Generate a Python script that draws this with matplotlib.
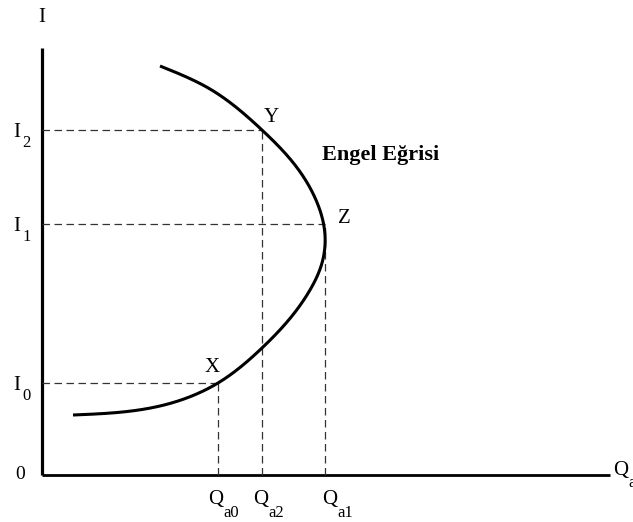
import numpy as np
import matplotlib
matplotlib.use("Agg")
import matplotlib.pyplot as plt

# Engel curve for a good that turns inferior at high income (Q on x, income I on y)
curve_q = [118, 168, 220, 253, 274, 283, 280, 268, 245, 220, 176, 118, 31]
curve_i = [409, 386, 345, 310, 275, 240, 212, 185, 153, 127, 92, 69, 60]

# Marked income levels and the matching quantities
income_levels = [92, 251, 345]          # I0, I1, I2
income_labels = ["0", "1", "2"]
quantities = [176, 283, 220]            # Qa0, Qa1, Qa2 (paired with I0, I1, I2)
quantity_labels = ["a0", "a1", "a2"]
point_names = ["X", "Z", "Y"]

FONT = "Liberation Serif"


def natural_spline(t, y, tt):
    """Natural cubic spline of y(t), evaluated at tt."""
    n = len(t)
    h = np.diff(t)
    A = np.zeros((n, n))
    r = np.zeros(n)
    A[0, 0] = A[-1, -1] = 1.0
    for k in range(1, n - 1):
        A[k, k - 1] = h[k - 1]
        A[k, k] = 2 * (h[k - 1] + h[k])
        A[k, k + 1] = h[k]
        r[k] = 3 * ((y[k + 1] - y[k]) / h[k] - (y[k] - y[k - 1]) / h[k - 1])
    c = np.linalg.solve(A, r)
    b = np.diff(y) / h - h * (2 * c[:-1] + c[1:]) / 3
    d = np.diff(c) / (3 * h)
    idx = np.clip(np.searchsorted(t, tt, side="right") - 1, 0, n - 2)
    dt = tt - t[idx]
    return y[idx] + b[idx] * dt + c[idx] * dt ** 2 + d[idx] * dt ** 3


def smooth_path(xs, ys, n=600):
    x = np.asarray(xs, float)
    y = np.asarray(ys, float)
    t = np.concatenate([[0], np.cumsum(np.hypot(np.diff(x), np.diff(y)))])
    tt = np.linspace(t[0], t[-1], n)
    return natural_spline(t, x, tt), natural_spline(t, y, tt)


fig = plt.figure(figsize=(6.33, 5.22), dpi=100)
ax = fig.add_axes([0, 0, 1, 1])
ax.set_xlim(-42, 591)
ax.set_ylim(-47, 475)
ax.axis("off")

# Axes
ax.plot([0, 0], [0, 427], color="black", lw=2.3, solid_capstyle="butt")
ax.plot([0, 568], [0, 0], color="black", lw=2.0, solid_capstyle="butt")

# Guide lines to the axes
dash = dict(color="#333333", lw=0.9, linestyle=(0, (6, 3.6)))
for q, i in zip(quantities, income_levels):
    ax.plot([0, q], [i, i], **dash)
    ax.plot([q, q], [0, i], **dash)

# Engel curve
sx, sy = smooth_path(curve_q, curve_i)
ax.plot(sx, sy, color="black", lw=2.2, solid_capstyle="butt")

txt = dict(family=FONT, color="black")

# Axis names
ax.text(0, 453, "I", fontsize=15, ha="center", va="baseline", **txt)
ax.text(571, 0, "Q", fontsize=15, ha="left", va="baseline", **txt)
ax.text(586, -12, "a", fontsize=12, ha="left", va="baseline", **txt)
ax.text(-22, -4, "0", fontsize=14, ha="center", va="baseline", **txt)

# Income labels on the vertical axis
for lvl, sub in zip(income_levels, income_labels):
    ax.text(-25, lvl - 7, "I", fontsize=15, ha="center", va="baseline", **txt)
    ax.text(-20, lvl - 17, sub, fontsize=12, ha="left", va="baseline", **txt)

# Quantity labels on the horizontal axis
q_shift = {"a0": -10, "a1": -3, "a2": -9}
for q, sub in zip(quantities, quantity_labels):
    x0 = q + q_shift[sub]
    ax.text(x0, -29, "Q", fontsize=15, ha="left", va="baseline", **txt)
    ax.text(x0 + 15, -42, sub, fontsize=12, ha="left", va="baseline", **txt)

# Points on the curve
pt_offset = {"X": (-6, 11), "Z": (19, 1), "Y": (9, 8)}
for q, i, name in zip(quantities, income_levels, point_names):
    dx, dy = pt_offset[name]
    ax.text(q + dx, i + dy, name, fontsize=15, ha="center", va="baseline", **txt)

ax.text(280, 315, "Engel Eğrisi", fontsize=16, fontweight="bold",
        ha="left", va="baseline", **txt)

fig.savefig("out.png", dpi=100)
